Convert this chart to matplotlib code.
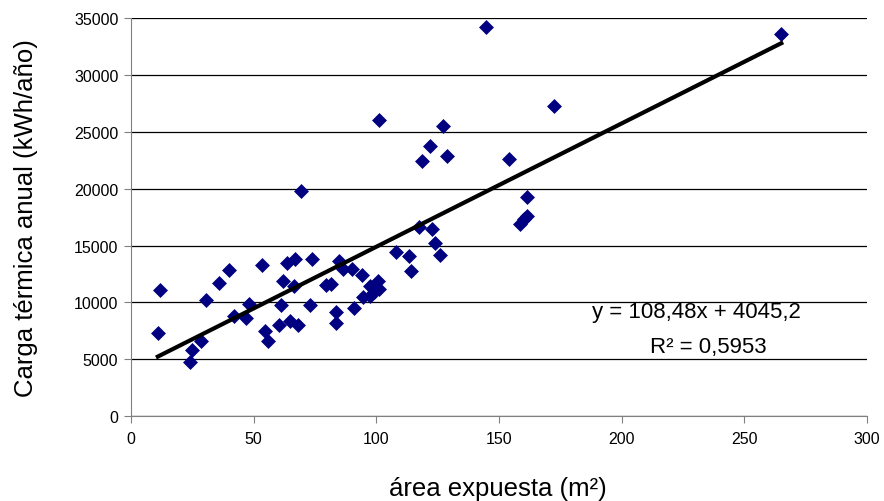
import numpy as np
import matplotlib
matplotlib.use("Agg")
import matplotlib.pyplot as plt

plt.rcParams['font.family'] = ['Liberation Sans', 'DejaVu Sans']

# area expuesta (m2) vs carga termica anual (kWh/año)
area = [11, 12, 24, 25, 28.5, 30.5, 36, 40, 42, 47, 48, 53.5, 54.5, 56,
        60.5, 61, 62, 63.5, 67, 66.5, 64.7, 68, 69.5, 74, 73, 79.5, 81.5,
        85, 86.5, 83.5, 83.5, 90, 91, 94, 94.5, 97.5, 97.5, 100.5, 101, 99,
        101, 108, 113.5, 114, 117.5, 122.5, 124, 126, 118.5, 122, 127, 129,
        144.5, 154, 158.5, 160, 161.5, 161.5, 172.5, 265]
carga = [7350, 11100, 4800, 5800, 6600, 10200, 11750, 12850, 8850, 8650,
         9850, 13300, 7450, 6600, 8050, 9750, 11850, 13500, 13800, 11400,
         8400, 8050, 19800, 13800, 9800, 11500, 11600, 13600, 12900, 9200,
         8200, 12900, 9550, 12400, 10500, 10600, 11400, 11900, 11200, 10900,
         26000, 14400, 14100, 12800, 16650, 16450, 15200, 14200, 22400,
         23750, 25550, 22850, 34200, 22650, 16900, 17300, 17600, 19300,
         27300, 33600]

pendiente = 108.48
ordenada = 4045.2
ecuacion = "y = 108,48x + 4045,2"
r2_texto = "R² = 0,5953"

fig = plt.figure(figsize=(8.84, 5.02), dpi=100)
ax = fig.add_axes([0.148, 0.169, 0.833, 0.793])

ax.scatter(area, carga, marker='D', s=58, color='#000080', zorder=3, linewidths=0)

# linea de tendencia (ajuste lineal)
xs = np.array([min(area), max(area)])
ax.plot(xs, pendiente * xs + ordenada, color='black', lw=3, zorder=4)

ax.set_xlim(0, 300)
ax.set_ylim(0, 35000)
ax.set_xticks(range(0, 301, 50))
ax.set_yticks(range(0, 35001, 5000))
ax.yaxis.grid(True, color='black', lw=0.9)
ax.set_axisbelow(True)
for s in ['top', 'right']:
    ax.spines[s].set_visible(False)
for s in ['left', 'bottom']:
    ax.spines[s].set_color('#808080')
ax.tick_params(direction='out', length=5, labelsize=11.5, color='#808080')
ax.tick_params(axis='x', pad=6)
ax.tick_params(axis='y', pad=4)

fig.text(0.029, 0.566, "Carga térmica anual (kWh/año)", rotation=90,
         ha='center', va='center', fontsize=18.5)
fig.text(0.563, 0.025, "área expuesta (m²)", ha='center', va='center', fontsize=18.5)

ax.text(0.768, 0.264, ecuacion, transform=ax.transAxes, ha='center', va='center', fontsize=16)
ax.text(0.784, 0.176, r2_texto, transform=ax.transAxes, ha='center', va='center', fontsize=16)

fig.savefig("out.png", dpi=100)
